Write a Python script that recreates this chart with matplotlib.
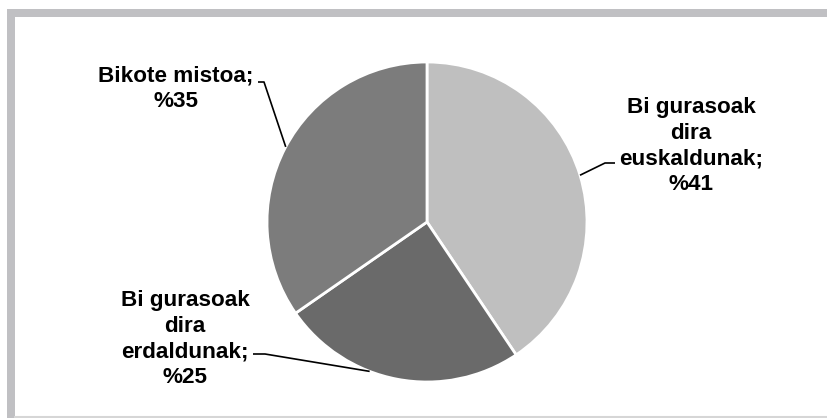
import numpy as np
import matplotlib
matplotlib.use("Agg")
import matplotlib.pyplot as plt
from matplotlib.patches import Rectangle

categories = ["Bi gurasoak\ndira\neuskaldunak;", "Bi gurasoak\ndira\nerdaldunak;", "Bikote mistoa;"]
values = [41, 25, 35]
pct_labels = ["%41", "%25", "%35"]
colors = ["#bfbfbf", "#6a6a6a", "#7c7c7c"]

W, H = 828, 418
fig = plt.figure(figsize=(W / 100, H / 100), dpi=100)
fig.patch.set_facecolor("white")
ax = fig.add_axes([0, 0, 1, 1])

cx, cy, R = 427, H - 222, 160
wedges, _ = ax.pie(values, colors=colors, startangle=90, counterclock=False,
                   center=(cx, cy), radius=R, frame=False,
                   wedgeprops=dict(edgecolor="white", linewidth=2))
ax.set_xlim(0, W)
ax.set_ylim(0, H)
ax.set_aspect("equal")
ax.axis("off")

# frame
frame_c = "#c0c0c3"
ax.add_patch(Rectangle((7, H - 17), W - 7, 8, color=frame_c, lw=0, zorder=0))
ax.add_patch(Rectangle((7, 0), 8, H - 9, color=frame_c, lw=0, zorder=0))
ax.plot([15, W], [1, 1], color="#d6d6d6", lw=1.5, zorder=0)

font = dict(family=["Liberation Sans", "DejaVu Sans"], fontweight="bold", fontsize=16.2)

# label layout: (text center x, center y in pixels from top, attach point, edge angle)
layout = [
    (691, 146, (615, 163), (605, 163), 17),
    (185, 339, (253, 354), (265, 354), -111),
    (176, 89, (258, 82), (264, 82), 152),
]
for i, (tx, ty, p0, p1, ang) in enumerate(layout):
    ax.text(tx, H - ty, categories[i] + "\n" + pct_labels[i], ha="center", va="center",
            linespacing=1.3, color="black", **font)
    a = np.deg2rad(ang)
    ex, ey = cx + R * np.cos(a), cy + R * np.sin(a)
    ax.plot([p0[0], p1[0], ex], [H - p0[1], H - p1[1], ey], color="black", lw=1.2,
            solid_capstyle="butt", zorder=5)

fig.savefig("out.png", dpi=100, facecolor="white")
